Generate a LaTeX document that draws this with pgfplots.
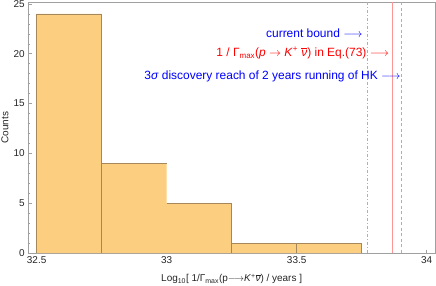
\documentclass[border=0pt]{standalone}
\usepackage{fontspec}
\setmainfont{Liberation Sans}
\usepackage{pgfplots}
\pgfplotsset{compat=1.18}
\definecolor{barfill}{RGB}{252,207,128}
\definecolor{baredge}{RGB}{165,135,90}
\definecolor{lav}{RGB}{165,165,250}
\definecolor{pinkred}{RGB}{255,150,150}
\definecolor{framegray}{RGB}{160,160,160}
\begin{document}
\begin{tikzpicture}
\useasboundingbox (-28.3bp,-33bp) rectangle (407.7bp,253bp);
\begin{axis}[
  scale only axis,
  width=406.7bp, height=251bp,
  xmin=32.468, xmax=34.032,
  ymin=0, ymax=25.2,
  axis line style={framegray, line width=0.8bp},
  tick style={framegray, line width=0.6bp},
  tick align=inside,
  tick pos=left,
  major tick length=3.5bp,
  minor tick length=2bp,
  xtick={32.5,33,33.5,34},
  xticklabels={32.5,33,33.5,34},
  ytick={0,5,10,15,20,25},
  yticklabels={0,5,10,15,20,25},
  minor ytick={1,2,3,4,6,7,8,9,11,12,13,14,16,17,18,19,21,22,23,24},
  ticklabel style={font=\fontsize{10}{12}\selectfont, text=black!85},
  /pgf/number format/assume math mode=true,
  xlabel={Log\textsubscript{10}[ 1/Γ\textsubscript{max}(p$\longrightarrow$\textit{K}\textsuperscript{+}$\overline{\hbox{\itshape ν}}$) / years ]},
  ylabel={Counts},
  every axis x label/.style={at={(axis description cs:0.5,-0.1036)}, anchor=center, font=\fontsize{10}{12}\selectfont, text=black!85},
  every axis y label/.style={at={(axis description cs:-0.0573,0.5)}, anchor=center, rotate=90, font=\fontsize{10}{12}\selectfont, text=black!85},
  unbounded coords=jump,
  clip=false,
]
\addplot[ybar interval, fill=barfill, draw=none] coordinates {
  (32.5,24) (32.75,9) (33.0,5) (33.25,1) (33.5,1) (33.75,1)
};
\addplot[baredge, line width=0.6bp, mark=none] coordinates {
  (32.5,0) (32.5,24) (32.75,24) (32.75,0)
  (32.75,nan)
  (32.75,9) (33.0,9)
  (33.0,nan)
  (33.0,5) (33.25,5) (33.25,0)
  (33.25,nan)
  (33.25,1) (33.5,1) (33.5,0)
  (33.5,nan)
  (33.5,1) (33.75,1) (33.75,0)
};
\addplot[lav, line width=0.7bp, mark=none, dash pattern=on 3bp off 2bp on 1bp off 2bp] coordinates {(33.772,0) (33.772,25.2)};
\addplot[pinkred, line width=0.7bp, mark=none] coordinates {(33.867,0) (33.867,25.2)};
\addplot[lav, line width=0.7bp, mark=none, dash pattern=on 3bp off 2.5bp] coordinates {(33.902,0) (33.902,25.2)};
\node[anchor=east, inner sep=0pt, text=blue, font=\fontsize{12}{14}\selectfont] at (axis cs:33.754,22.08) {current bound $\longrightarrow$};
\node[anchor=east, inner sep=0pt, text=red, font=\fontsize{12}{14}\selectfont] at (axis cs:33.856,20.07) {1 / Γ\textsubscript{max}(\textit{p} $\rightarrow$ \textit{K}\textsuperscript{+} $\overline{\hbox{\itshape ν}}$) in Eq.(73) $\longrightarrow$};
\node[anchor=east, inner sep=0pt, text=blue, font=\fontsize{12}{14}\selectfont] at (axis cs:33.90,17.69) {3\textit{σ} discovery reach of 2 years running of HK $\longrightarrow$};
\end{axis}
\end{tikzpicture}
\end{document}
